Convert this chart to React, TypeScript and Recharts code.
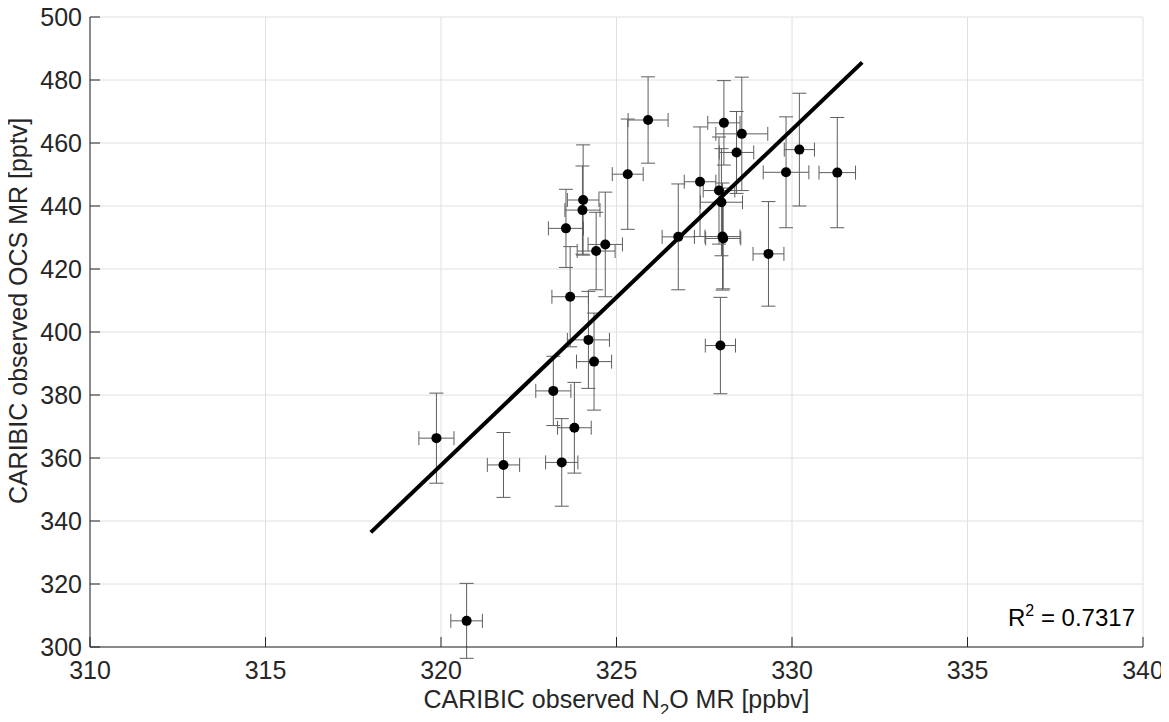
import React from 'react';
import {
  ScatterChart, Scatter, XAxis, YAxis, CartesianGrid, ErrorBar, ReferenceLine,
} from 'recharts';

// CARIBIC observations: N2O (ppbv) vs OCS (pptv), with 1-sigma errors
const n2o = [
  319.87, 320.73, 321.78, 323.2, 323.44, 323.56, 323.68, 323.8, 324.03, 324.05,
  324.2, 324.36, 324.42, 324.68, 325.32, 325.9, 326.76, 327.38, 327.92, 327.99,
  328.02, 328.04, 328.06, 328.42, 328.57, 327.96, 329.33, 329.83, 330.21, 331.29,
];
const ocs = [
  366.3, 308.3, 357.8, 381.3, 358.6, 432.9, 411.2, 369.6, 438.7, 441.9,
  397.5, 390.6, 425.7, 427.8, 450.1, 467.3, 430.2, 447.7, 444.9, 441.2,
  430.3, 429.7, 466.4, 457.0, 462.9, 395.7, 424.8, 450.7, 457.9, 450.6,
];
const n2oErr = [
  0.5, 0.45, 0.46, 0.5, 0.46, 0.5, 0.52, 0.48, 0.5, 0.45,
  0.6, 0.5, 0.54, 0.49, 0.44, 0.57, 0.46, 0.45, 0.45, 0.6,
  0.5, 0.5, 0.46, 0.49, 0.74, 0.43, 0.44, 0.65, 0.43, 0.52,
];
const ocsErr = [
  14.3, 11.9, 10.3, 11.0, 13.9, 12.4, 15.9, 14.4, 14.0, 17.5,
  15.4, 15.4, 12.3, 16.6, 17.5, 13.7, 16.8, 17.4, 17.0, 17.0,
  17.0, 16.0, 13.4, 13.0, 18.0, 15.3, 16.6, 17.6, 17.9, 17.5,
];

// least-squares fit shown in the figure
const fitX = [318, 332];
const fitY = [336.4, 485.6];
const r2 = '0.7317';

const xTicks = [310, 315, 320, 325, 330, 335, 340];
const yTicks = [300, 320, 340, 360, 380, 400, 420, 440, 460, 480, 500];

const points = n2o.map((x, i) => ({ x, y: ocs[i], ex: n2oErr[i], ey: ocsErr[i] }));

const FONT = '"Liberation Sans", Arial, Helvetica, sans-serif';
const INK = '#262626';
const TICK_LEN = 10;
const W = 1169;
const H = 722;

const BottomTick = ({ x, y, payload }: any) => (
  <g>
    <line x1={x} x2={x} y1={y} y2={y - TICK_LEN} stroke={INK} />
    <text x={x} y={y + 32} textAnchor="middle" fontSize={25} fill={INK} fontFamily={FONT}>
      {payload.value}
    </text>
  </g>
);

const LeftTick = ({ x, y, payload }: any) => (
  <g>
    <line x1={x} x2={x + TICK_LEN} y1={y} y2={y} stroke={INK} />
    <text x={x - 8} y={y + 9} textAnchor="end" fontSize={25} fill={INK} fontFamily={FONT}>
      {payload.value}
    </text>
  </g>
);

const TopTick = ({ x, y }: any) => <line x1={x} x2={x} y1={y} y2={y + TICK_LEN} stroke={INK} />;
const RightTick = ({ x, y }: any) => <line x1={x} x2={x - TICK_LEN} y1={y} y2={y} stroke={INK} />;

const XTitle = ({ viewBox }: any) => {
  const cx = viewBox.x + viewBox.width / 2;
  return (
    <text x={cx} y={viewBox.y + 61} textAnchor="middle" fontSize={25} fill={INK} fontFamily={FONT}>
      CARIBIC observed N<tspan dy={8} fontSize={17}>2</tspan>
      <tspan dy={-8}>O MR [ppbv]</tspan>
    </text>
  );
};

const YTitle = () => (
  <text
    x={27}
    y={311}
    transform="rotate(-90, 27, 311)"
    textAnchor="middle"
    fontSize={25}
    fill={INK}
    fontFamily={FONT}
  >
    CARIBIC observed OCS MR [pptv]
  </text>
);

export default function App() {
  return (
    <div style={{ position: 'relative', width: W, height: H, margin: -8, fontFamily: FONT }}>
      <ScatterChart width={W} height={H} margin={{ top: 17, right: 26, left: 0, bottom: 8 }}>
        <CartesianGrid stroke="#e0e0e0" />
        <XAxis
          type="number"
          dataKey="x"
          domain={[310, 340]}
          allowDataOverflow
          ticks={xTicks}
          height={67}
          tickSize={0}
          tickMargin={0}
          tickLine={false}
          axisLine={{ stroke: INK }}
          tick={<BottomTick />}
          label={{ content: <XTitle /> }}
          interval={0}
        />
        <YAxis
          type="number"
          dataKey="y"
          domain={[300, 500]}
          allowDataOverflow
          ticks={yTicks}
          width={90}
          tickSize={0}
          tickMargin={0}
          tickLine={false}
          axisLine={{ stroke: INK }}
          tick={<LeftTick />}
          label={{ content: <YTitle /> }}
          interval={0}
        />
        <XAxis
          xAxisId="top"
          orientation="top"
          type="number"
          domain={[310, 340]}
          allowDataOverflow
          ticks={xTicks}
          height={0}
          tickSize={0}
          tickMargin={0}
          tickLine={false}
          axisLine={{ stroke: INK }}
          tick={<TopTick />}
          interval={0}
        />
        <YAxis
          yAxisId="right"
          orientation="right"
          type="number"
          domain={[300, 500]}
          allowDataOverflow
          ticks={yTicks}
          width={0}
          tickSize={0}
          tickMargin={0}
          tickLine={false}
          axisLine={{ stroke: INK }}
          tick={<RightTick />}
          interval={0}
        />
        <Scatter data={points} fill="#000" isAnimationActive={false} shape={(p: any) => (
          <circle cx={p.cx} cy={p.cy} r={5} fill="#000" />
        )}>
          <ErrorBar dataKey="ey" direction="y" width={7} stroke="#5e5e5e" strokeWidth={1} isAnimationActive={false} />
          <ErrorBar dataKey="ex" direction="x" width={7} stroke="#5e5e5e" strokeWidth={1} isAnimationActive={false} />
        </Scatter>
        <ReferenceLine
          segment={[{ x: fitX[0], y: fitY[0] }, { x: fitX[1], y: fitY[1] }]}
          stroke="#000"
          strokeWidth={4}
          ifOverflow="visible"
        />
      </ScatterChart>
      <svg
        width={W}
        height={H}
        style={{ position: 'absolute', left: 0, top: 0, pointerEvents: 'none' }}
      >
        <text x={1135} y={626} textAnchor="end" fontSize={24} fill="#000" fontFamily={FONT}>
          R<tspan dy={-10} fontSize={16}>2</tspan>
          <tspan dy={10}> = {r2}</tspan>
        </text>
      </svg>
    </div>
  );
}
